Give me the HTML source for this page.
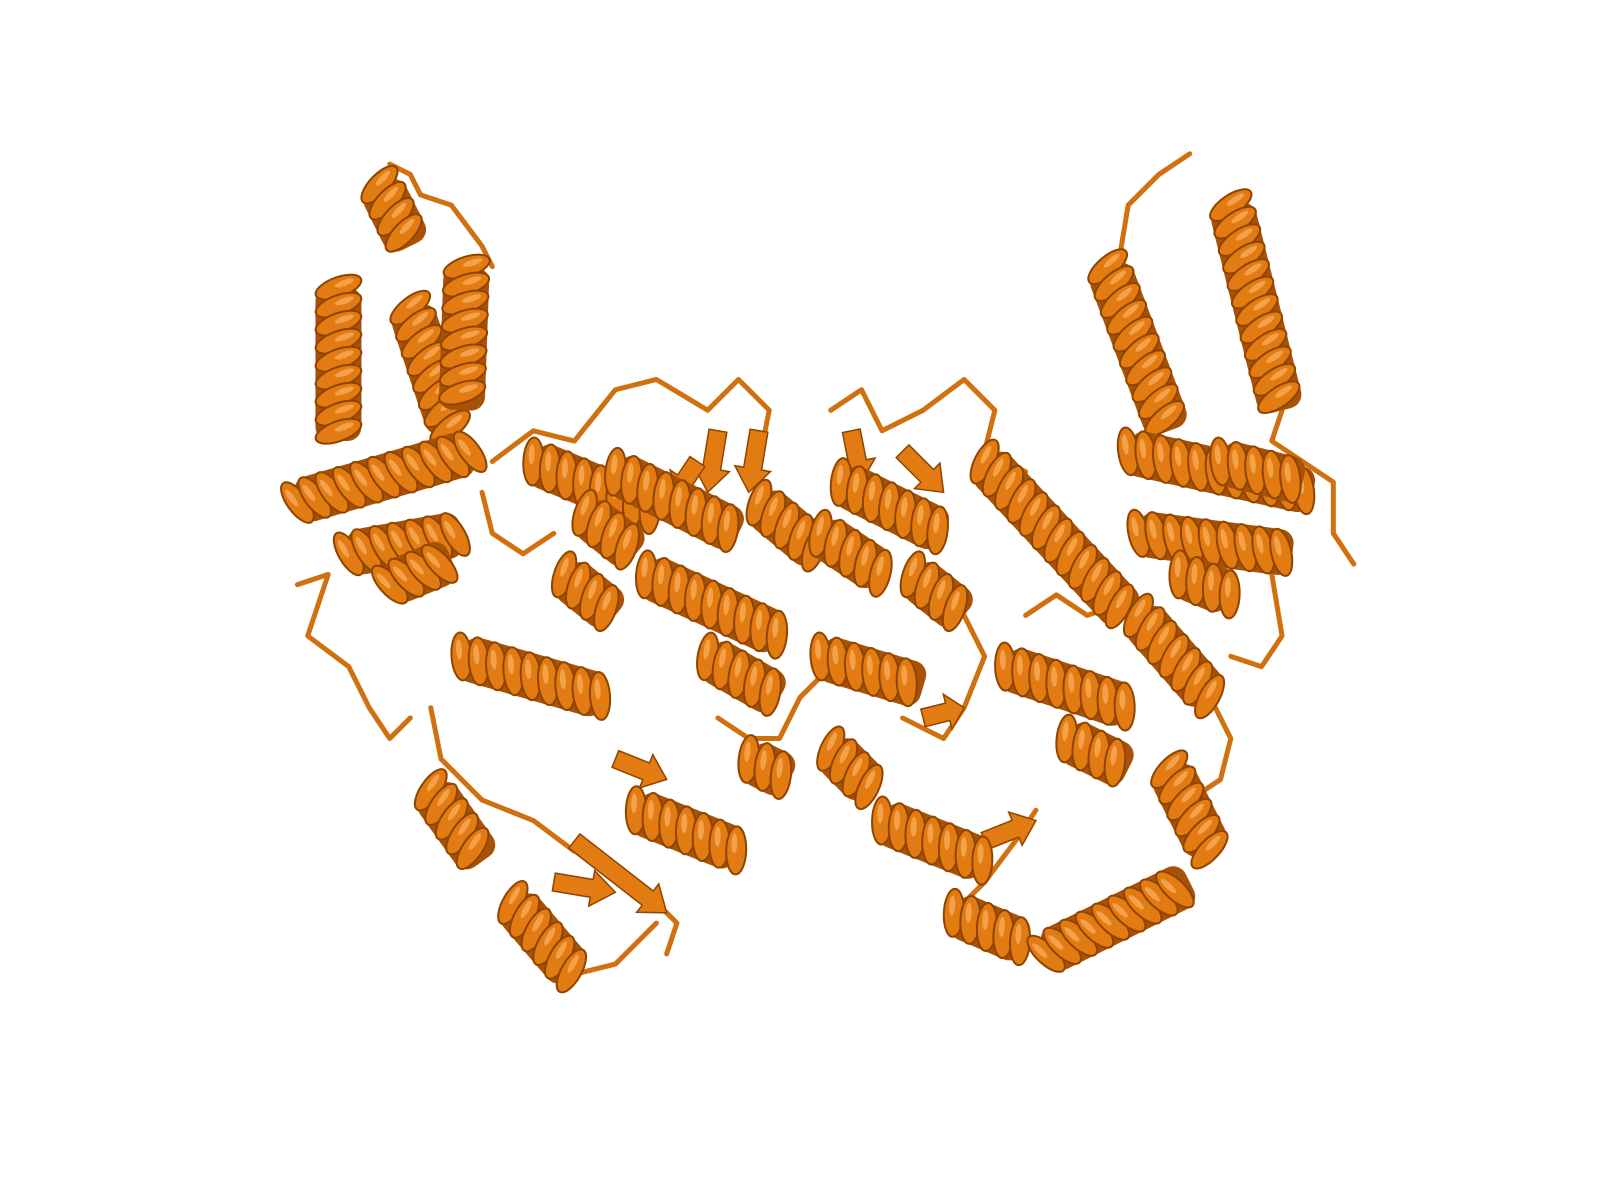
<!DOCTYPE html>
<html><head><meta charset="utf-8">
<style>
html,body{margin:0;padding:0;background:#fff;width:1600px;height:1200px;overflow:hidden}
svg{display:block}
</style></head>
<body>
<svg id="scene" width="1600" height="1200" viewBox="0 0 1600 1200" xmlns="http://www.w3.org/2000/svg">
<g id="loops"></g>
<g id="helices"></g>
</svg>
<script>
const helixStarts = [
 [330,280],[400,300],[455,260],[290,490],[340,540],[380,570],[370,180],
 [520,450],[600,460],[630,560],[450,640],[420,770],[500,880],[620,790],[730,740],[690,640],[550,560],[570,500],[740,490],
 [820,470],[960,450],[1110,600],[980,650],[800,640],[810,730],[860,800],[930,890],[1020,930],[1140,750],[1040,720],[800,520],[890,560],
 [1080,260],[1200,200],[1100,440],[1110,520],[1150,560],[1190,450]
];
const helixEnds = [
 [330,430],[440,420],[450,400],[460,440],[450,520],[440,545],[400,240],
 [640,500],[720,520],[760,620],[590,680],[470,840],[560,950],[720,830],[770,760],[760,680],[600,600],[620,540],[800,540],
 [920,520],[1100,600],[1180,680],[1100,690],[900,670],[850,770],[960,840],[1000,920],[1160,860],[1180,830],[1100,750],[860,560],[940,600],
 [1140,420],[1250,400],[1280,480],[1260,540],[1200,580],[1270,470]
];
const loopPaths = [
 [[380,160],[400,170],[410,190],[440,200],[470,240],[480,260]],
 [[480,450],[520,420],[560,430],[600,380],[640,370],[690,400],[720,370],[750,400],[740,450]],
 [[810,400],[840,380],[860,420],[900,400],[940,370],[970,400],[960,440],[1000,460]],
 [[1090,260],[1100,200],[1130,170],[1160,150]],
 [[1250,400],[1240,430],[1270,450],[1300,470],[1300,520],[1320,550]],
 [[290,570],[320,560],[300,620],[340,650],[360,690],[380,720],[400,700]],
 [[420,690],[430,740],[470,780],[520,800],[560,830]],
 [[600,860],[640,880],[660,900],[650,930]],
 [[560,950],[600,940],[640,900]],
 [[700,700],[730,720],[760,720],[780,680],[800,660]],
 [[1180,680],[1200,720],[1190,760],[1160,780]],
 [[930,890],[960,860],[990,820],[1010,790]],
 [[1000,600],[1030,580],[1060,600],[1090,590],[1120,610]],
 [[1240,560],[1250,620],[1230,650],[1200,640]],
 [[470,480],[480,520],[510,540],[540,520]],
 [[880,700],[920,720],[940,690],[960,640],[940,600]]
];
const strandStarts = [[700,420],[740,420],[680,450],[830,420],[880,440],[560,820],[540,860],[900,700],[960,820],[600,740]];
const strandEnds   = [[690,480],[730,480],[660,480],[840,470],[920,480],[650,890],[600,870],[940,690],[1010,800],[650,760]];

const NS='http://www.w3.org/2000/svg';
const S=1600/1560;
const base='#e27b12', dark='#8f4400', light='#f3a24a';
const loopG=document.getElementById('loops');
const helG=document.getElementById('helices');

loopPaths.forEach((pts,i)=>{
  const p=document.createElementNS(NS,'polyline');
  p.setAttribute('points',pts.map(q=>(q[0]*S)+','+(q[1]*S)).join(' '));
  p.setAttribute('fill','none');p.setAttribute('stroke','#d0700f');
  p.setAttribute('stroke-width','5');p.setAttribute('stroke-linejoin','round');p.setAttribute('stroke-linecap','round');
  
  
  loopG.appendChild(p);
});

strandStarts.forEach((s,i)=>{
  const e=strandEnds[i];
  const x1=s[0]*S,y1=s[1]*S,x2=e[0]*S,y2=e[1]*S;
  const dx=x2-x1,dy=y2-y1,L=Math.hypot(dx,dy),ux=dx/L,uy=dy/L,nx=-uy,ny=ux;
  const w=9,hw=18,hl=Math.min(24,L*0.4);
  const bx=x2-ux*hl,by=y2-uy*hl;
  const pts=[[x1+nx*w,y1+ny*w],[bx+nx*w,by+ny*w],[bx+nx*hw,by+ny*hw],[x2,y2],[bx-nx*hw,by-ny*hw],[bx-nx*w,by-ny*w],[x1-nx*w,y1-ny*w]];
  const p=document.createElementNS(NS,'polygon');
  p.setAttribute('points',pts.map(q=>q[0]+','+q[1]).join(' '));
  p.setAttribute('fill',base);p.setAttribute('stroke',dark);p.setAttribute('stroke-width','1.5');
  
  
  helG.appendChild(p);
});

helixStarts.forEach((s,i)=>{
  const e=helixEnds[i];
  const x1=s[0]*S,y1=s[1]*S,x2=e[0]*S,y2=e[1]*S;
  const dx=x2-x1,dy=y2-y1,L=Math.hypot(dx,dy);
  const ang=Math.atan2(dy,dx)*180/Math.PI;
  const g=document.createElementNS(NS,'g');
  g.setAttribute('transform','translate('+x1+','+y1+') rotate('+ang+')');
  
  
  const core=document.createElementNS(NS,'rect');
  core.setAttribute('x',0);core.setAttribute('y',-23);core.setAttribute('width',L);core.setAttribute('height',46);
  core.setAttribute('fill','#a85208');core.setAttribute('rx',14);
  g.appendChild(core);
  const step=18;
  for(let t=0;t<=L;t+=step){
    const el=document.createElementNS(NS,'ellipse');
    el.setAttribute('cx',t);el.setAttribute('cy',0);el.setAttribute('rx',10);el.setAttribute('ry',24);
    el.setAttribute('transform','rotate(-20 '+t+' 0)');
    el.setAttribute('fill',base);el.setAttribute('stroke',dark);el.setAttribute('stroke-width','2');
    g.appendChild(el);
    const hl=document.createElementNS(NS,'ellipse');
    hl.setAttribute('cx',t-2);hl.setAttribute('cy',-7);hl.setAttribute('rx',3);hl.setAttribute('ry',10);
    hl.setAttribute('transform','rotate(-20 '+t+' 0)');
    hl.setAttribute('fill',light);
    g.appendChild(hl);
  }
  helG.appendChild(g);
});
</script>
</body></html>
